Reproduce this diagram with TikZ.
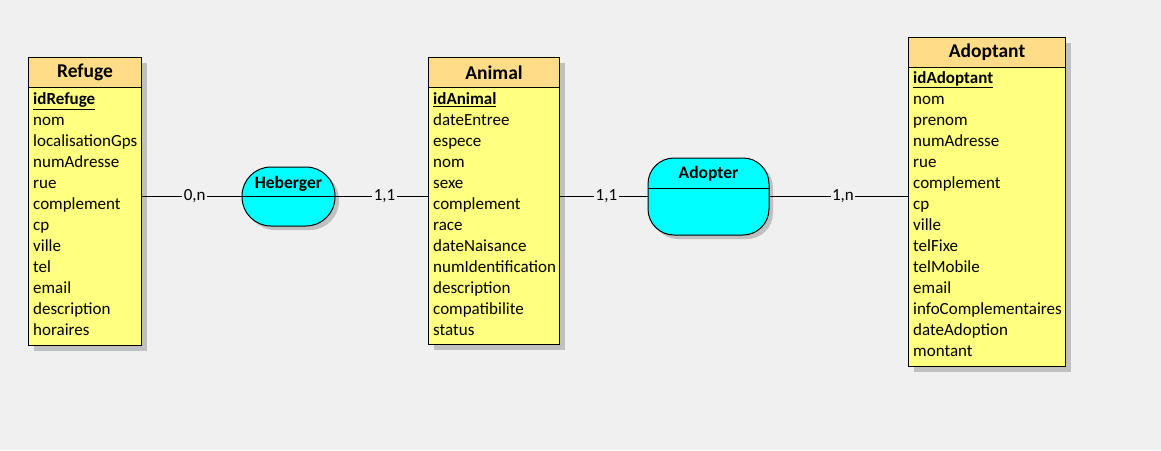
\documentclass[tikz,border=0pt]{standalone}
\usepackage{fontspec}
\setmainfont{Carlito}
\usetikzlibrary{shadows, positioning}

\definecolor{bggrey}{HTML}{F0F0F0}
\definecolor{entbody}{HTML}{FFFF80}
\definecolor{entheadfill}{HTML}{FFDD88}
\definecolor{assoccyan}{HTML}{00FFFF}
\definecolor{shadowgrey}{HTML}{C0C0C0}

\tikzset{
  entity/.style={draw, fill=entbody, line width=1pt, anchor=north west, inner sep=0pt,
    drop shadow={shadow xshift=5pt, shadow yshift=-5pt, fill=shadowgrey, opacity=1}},
  enthead/.style={draw, fill=entheadfill, line width=1pt, anchor=north west, inner sep=0pt,
    minimum height=30pt, font=\bfseries\fontsize{19.5}{21}\selectfont},
  attr/.style={anchor=west, inner sep=0pt, text height=11pt, text depth=3pt,
    font=\fontsize{17}{19}\selectfont},
  assoc/.style={draw, fill=assoccyan, line width=1pt, inner sep=0pt,
    drop shadow={shadow xshift=4pt, shadow yshift=-4pt, fill=shadowgrey, opacity=1}},
  assoctitle/.style={inner sep=0pt, font=\bfseries\fontsize{17.5}{19}\selectfont},
  card/.style={fill=bggrey, inner sep=1.5pt, font=\fontsize{17}{19}\selectfont},
  link/.style={line width=1pt}
}

\begin{document}
\begin{tikzpicture}[x=1pt, y=-1pt]
% background
\fill[bggrey] (0,0) rectangle (1161,450);

% Refuge
\node[entity, minimum width=113pt, minimum height=288pt] (refuge) at (28,57) {};
\node[enthead, minimum width=113pt] (refuge-head) at (28,57) {Refuge};
\node[attr] (refuge-0) at (33,100.5) {\underline{\textbf{idRefuge}}};
\foreach \t [count=\i] in {nom, localisationGps, numAdresse, rue, complement, cp, ville, tel, email, description, horaires}
  \node[attr] (refuge-\i) at (33,{100.5+21*\i}) {\t};

% Animal
\node[entity, minimum width=131pt, minimum height=287pt] (animal) at (428,57) {};
\node[enthead, minimum width=131pt] (animal-head) at (428,57) {Animal};
\node[attr] (animal-0) at (433,100.5) {\underline{\textbf{idAnimal}}};
\foreach \t [count=\i] in {dateEntree, espece, nom, sexe, complement, race, dateNaisance, numIdentification, description, compatibilite, status}
  \node[attr] (animal-\i) at (433,{100.5+21*\i}) {\t};

% Adoptant
\node[entity, minimum width=157pt, minimum height=329pt] (adoptant) at (908,37) {};
\node[enthead, minimum width=157pt] (adoptant-head) at (908,37) {Adoptant};
\node[attr] (adoptant-0) at (913,79.5) {\underline{\textbf{idAdoptant}}};
\foreach \t [count=\i] in {nom, prenom, numAdresse, rue, complement, cp, ville, telFixe, telMobile, email, infoComplementaires, dateAdoption, montant}
  \node[attr] (adoptant-\i) at (913,{79.5+21*\i}) {\t};

% Associations
\node[assoc, rounded corners=29pt, minimum width=93pt, minimum height=59pt] (heberger) at (288.5,196.5) {};
\draw[line width=1pt] (heberger.west) -- (heberger.east);
\node[assoctitle] (heberger-title) at ([yshift=-17pt]heberger.north) {Heberger};

\node[assoc, rounded corners=26pt, minimum width=121pt, minimum height=77pt] (adopter) at (708.5,196.5) {};
\draw[line width=1pt] ([yshift=8.5pt]adopter.west) -- ([yshift=8.5pt]adopter.east);
\node[assoctitle] (adopter-title) at ([yshift=-16pt]adopter.north) {Adopter};

% Links
\draw[link] (refuge.east |- heberger.west) -- node[card, pos=0.53] {0,n} (heberger.west);
\draw[link] (heberger.east) -- node[card, pos=0.53] {1,1} (animal.west |- heberger.east);
\draw[link] (animal.east |- adopter.west) -- node[card, pos=0.53] {1,1} (adopter.west);
\draw[link] (adopter.east) -- node[card, pos=0.53] {1,n} (adoptant.west |- adopter.east);
\end{tikzpicture}
\end{document}
